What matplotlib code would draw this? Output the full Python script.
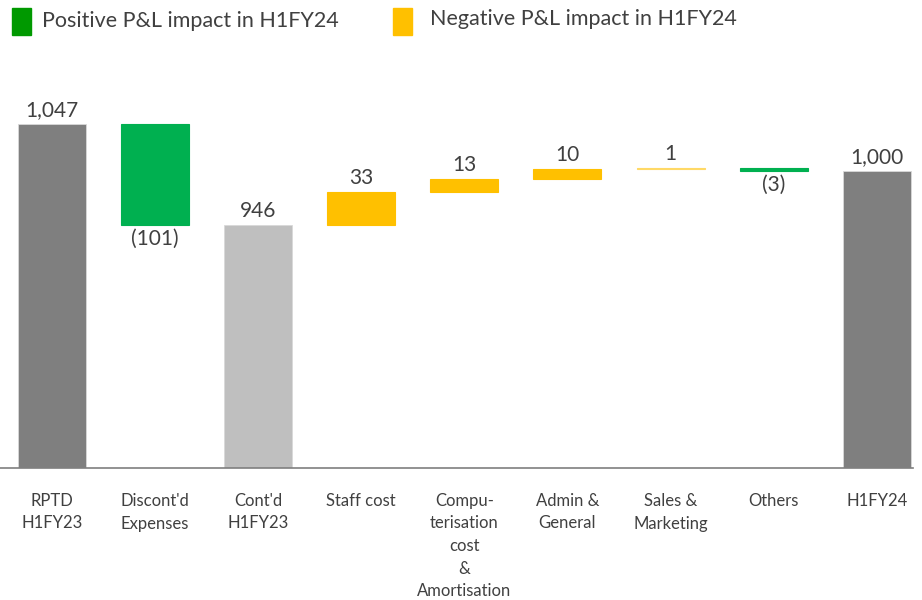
import numpy as np
import matplotlib
matplotlib.use('Agg')
import matplotlib.pyplot as plt
from matplotlib.patches import Rectangle

plt.rcParams['font.family'] = ['Lato', 'DejaVu Sans']

categories = ["RPTD\nH1FY23", "Discont'd\nExpenses", "Cont'd\nH1FY23", "Staff cost",
              "Compu-\nterisation\ncost\n&\nAmortisation", "Admin &\nGeneral",
              "Sales &\nMarketing", "Others", "H1FY24"]
values = [1047, -101, 946, 33, 13, 10, 1, -3, 1000]
kinds = ['total', 'delta', 'total', 'delta', 'delta', 'delta', 'delta', 'delta', 'total']
total_colors = ['#7F7F7F', None, '#BFBFBF', None, None, None, None, None, '#7F7F7F']

GREEN = '#00B050'
YELLOW = '#FFC000'
TEXT = '#404040'

fig = plt.figure(figsize=(9.22, 6.0), dpi=100)
ax = fig.add_axes([0.0, 0.22, 0.99, 0.645])

x = np.arange(len(categories))
running = 0
for i, (v, k) in enumerate(zip(values, kinds)):
    if k == 'total':
        running = v
        ax.bar(i, v, width=0.66, color=total_colors[i], edgecolor='#D9D9D9', linewidth=0.6)
        ax.text(i, v + 4, f'{v:,}', ha='center', va='bottom', fontsize=15, color=TEXT)
    else:
        start = running
        running = running + v
        bottom = min(start, running)
        height = abs(v)
        color = YELLOW if v > 0 else GREEN
        # thin bars get a soft outline so they stay visible
        edge = '#FFD966' if (height <= 2 and v > 0) else color
        ax.bar(i, height, bottom=bottom, width=0.66, color=color,
               edgecolor=edge, linewidth=0.8)
        if v > 0:
            ax.text(i, bottom + height + 4, f'{v:,}', ha='center', va='bottom', fontsize=15, color=TEXT)
        else:
            ax.text(i, bottom - 4, f'({abs(v):,})', ha='center', va='top', fontsize=15, color=TEXT)

ax.set_ylim(702, 1090)
ax.set_xlim(-0.505, 8.35)
ax.set_yticks([])
ax.set_xticks(x)
ax.set_xticklabels(categories, fontsize=12, color=TEXT, linespacing=1.5, va='top')
ax.tick_params(axis='x', length=0, pad=18)
for s in ['top', 'right', 'left']:
    ax.spines[s].set_visible(False)
ax.spines['bottom'].set_color('#7F7F7F')
ax.spines['bottom'].set_linewidth(1.2)

# legend across the top
fig.patches.append(Rectangle((12 / 922, 1 - 35 / 600), 19 / 922, 27 / 600,
                             transform=fig.transFigure, color='#009900'))
fig.text(42 / 922, 1 - 21 / 600, 'Positive P&L impact in H1FY24', fontsize=15.5,
         color=TEXT, va='center')
fig.patches.append(Rectangle((393 / 922, 1 - 35 / 600), 19 / 922, 27 / 600,
                             transform=fig.transFigure, color=YELLOW))
fig.text(430 / 922, 1 - 19 / 600, 'Negative P&L impact in H1FY24', fontsize=15.5,
         color=TEXT, va='center')

fig.savefig('out.png', dpi=100, facecolor='white')
